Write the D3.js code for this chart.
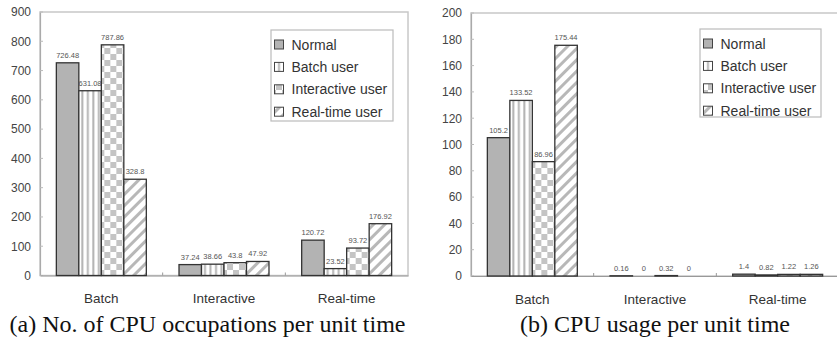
<!DOCTYPE html>
<html><head><meta charset="utf-8">
<script src="https://cdn.jsdelivr.net/npm/d3@7"></script>
<style>body{margin:0;background:#fff}svg{display:block}</style>
</head><body>
<svg id="c" width="837" height="344"></svg>
<script>
const categories = ["Batch", "Interactive", "Real-time"];
const seriesNames = ["Normal", "Batch user", "Interactive user", "Real-time user"];
// (a) No. of CPU occupations per unit time
const occNormal = [726.48, 37.24, 120.72];
const occBatchUser = [631.08, 38.66, 23.52];
const occInteractiveUser = [787.86, 43.8, 93.72];
const occRealtimeUser = [328.8, 47.92, 176.92];
const occTicks = [0, 100, 200, 300, 400, 500, 600, 700, 800, 900];
// (b) CPU usage per unit time
const useNormal = [105.2, 0.16, 1.4];
const useBatchUser = [133.52, 0, 0.82];
const useInteractiveUser = [86.96, 0.32, 1.22];
const useRealtimeUser = [175.44, 0, 1.26];
const useTicks = [0, 20, 40, 60, 80, 100, 120, 140, 160, 180, 200];
const captions = ["(a) No. of CPU occupations per unit time", "(b) CPU usage per unit time"];

const svg = d3.select("#c");
const defs = svg.append("defs");
// patterns
const pv = defs.append("pattern").attr("id","pVert").attr("patternUnits","userSpaceOnUse").attr("width",5.5).attr("height",10);
pv.append("rect").attr("width",5.5).attr("height",10).attr("fill","#fff");
pv.append("rect").attr("x",3).attr("width",2).attr("height",10).attr("fill","#b4b4b4");
const pc = defs.append("pattern").attr("id","pCheck").attr("patternUnits","userSpaceOnUse").attr("width",12).attr("height",12);
pc.append("rect").attr("width",12).attr("height",12).attr("fill","#fff");
pc.append("rect").attr("width",6).attr("height",6).attr("fill","#c4c4c4");
pc.append("rect").attr("x",6).attr("y",6).attr("width",6).attr("height",6).attr("fill","#c4c4c4");
const pd = defs.append("pattern").attr("id","pDiag").attr("patternUnits","userSpaceOnUse").attr("width",8).attr("height",8).attr("patternTransform","rotate(45)");
pd.append("rect").attr("width",8).attr("height",8).attr("fill","#fff");
pd.append("rect").attr("width",3).attr("height",8).attr("fill","#b8b8b8");

const fills = ["#b3b3b3", "url(#pVert)", "url(#pCheck)", "url(#pDiag)"];

function drawChart(cfg) {
  const g = svg.append("g");
  const y = d3.scaleLinear().domain([0, cfg.max]).range([cfg.bottom, cfg.top]);
  const x0 = d3.scaleBand().domain(categories).range([cfg.left, cfg.right]).paddingInner(0.2665).paddingOuter(0.13325);
  const x1 = d3.scaleBand().domain(seriesNames).range([0, x0.bandwidth()]);
  // plot frame
  g.append("rect").attr("x", cfg.left).attr("y", cfg.top).attr("width", cfg.right - cfg.left).attr("height", cfg.bottom - cfg.top)
    .attr("fill", "none").attr("stroke", "#c8c8c8").attr("stroke-width", 1.5);
  // y axis
  const ya = g.append("g").attr("transform", `translate(${cfg.left},0)`)
    .call(d3.axisLeft(y).tickValues(cfg.ticks).tickSize(0).tickPadding(9));
  ya.select(".domain").attr("stroke", "#aaa").attr("stroke-width", 1.2);
  ya.selectAll("text").attr("font-family", "Liberation Sans, Arial, sans-serif").attr("font-size", 12).attr("fill", "#444");
  g.selectAll(".ytick").data(cfg.ticks).enter().append("line")
    .attr("x1", cfg.left).attr("x2", cfg.left + 3).attr("y1", d => y(d)).attr("y2", d => y(d)).attr("stroke", "#bbb");
  // x axis
  const xa = g.append("g").attr("transform", `translate(0,${cfg.bottom})`)
    .call(d3.axisBottom(x0).tickSize(0).tickPadding(18));
  xa.select(".domain").attr("stroke", "#999").attr("stroke-width", 1.2);
  xa.selectAll("text").attr("font-family", "Liberation Sans, Arial, sans-serif").attr("font-size", 13.5).attr("fill", "#333");
  const step = x0.step();
  g.selectAll(".xtick").data([1, 2]).enter().append("line")
    .attr("x1", d => cfg.left + d * step).attr("x2", d => cfg.left + d * step)
    .attr("y1", cfg.bottom).attr("y2", cfg.bottom - 3).attr("stroke", "#999");
  // bars
  const groups = g.selectAll(".grp").data(categories).enter().append("g")
    .attr("transform", c => `translate(${x0(c)},0)`);
  groups.each(function(c, ci) {
    const gg = d3.select(this);
    cfg.series.forEach((arr, si) => {
      const v = arr[ci];
      gg.append("rect").attr("x", x1(seriesNames[si])).attr("width", x1.bandwidth())
        .attr("y", y(v)).attr("height", Math.max(0, y(0) - y(v)))
        .attr("fill", fills[si]).attr("stroke", "#333").attr("stroke-width", v > 0 ? 1.3 : 0);
      gg.append("text").attr("x", x1(seriesNames[si]) + x1.bandwidth() / 2).attr("y", y(v) - 5)
        .attr("text-anchor", "middle").attr("font-family", "Liberation Sans, Arial, sans-serif")
        .attr("font-size", 7.5).attr("fill", "#555").text(v);
    });
  });
  // legend
  const lg = g.append("g");
  lg.append("rect").attr("x", cfg.lx).attr("y", cfg.ly).attr("width", cfg.lw).attr("height", cfg.lh)
    .attr("fill", "#fff").attr("stroke", "#bbb").attr("stroke-width", 1.2);
  seriesNames.forEach((s, i) => {
    const cy = cfg.ly + 14.5 + i * 22.4;
    lg.append("rect").attr("x", cfg.lx + 3.5).attr("y", cy - 4.5).attr("width", 9).attr("height", 9)
      .attr("fill", fills[i]).attr("stroke", "#444").attr("stroke-width", 1);
    lg.append("text").attr("x", cfg.lx + 20.5).attr("y", cy + 5).attr("font-family", "Liberation Sans, Arial, sans-serif")
      .attr("font-size", 14).attr("fill", "#333").text(s);
  });
  // caption
  g.append("text").attr("x", cfg.cx).attr("y", 332).attr("text-anchor", "middle")
    .attr("font-family", "Liberation Serif, Times New Roman, serif").attr("font-size", 24).attr("fill", "#111").text(cfg.caption);
}

drawChart({left: 40, right: 408, top: 12, bottom: 275.5, max: 900, ticks: occTicks,
  series: [occNormal, occBatchUser, occInteractiveUser, occRealtimeUser],
  lx: 271, ly: 30, lw: 122, lh: 91, cx: 207.5, caption: captions[0]});
drawChart({left: 471, right: 839, top: 13, bottom: 276, max: 200, ticks: useTicks,
  series: [useNormal, useBatchUser, useInteractiveUser, useRealtimeUser],
  lx: 700, ly: 29, lw: 121, lh: 88, cx: 655, caption: captions[1]});
</script>
</body></html>
